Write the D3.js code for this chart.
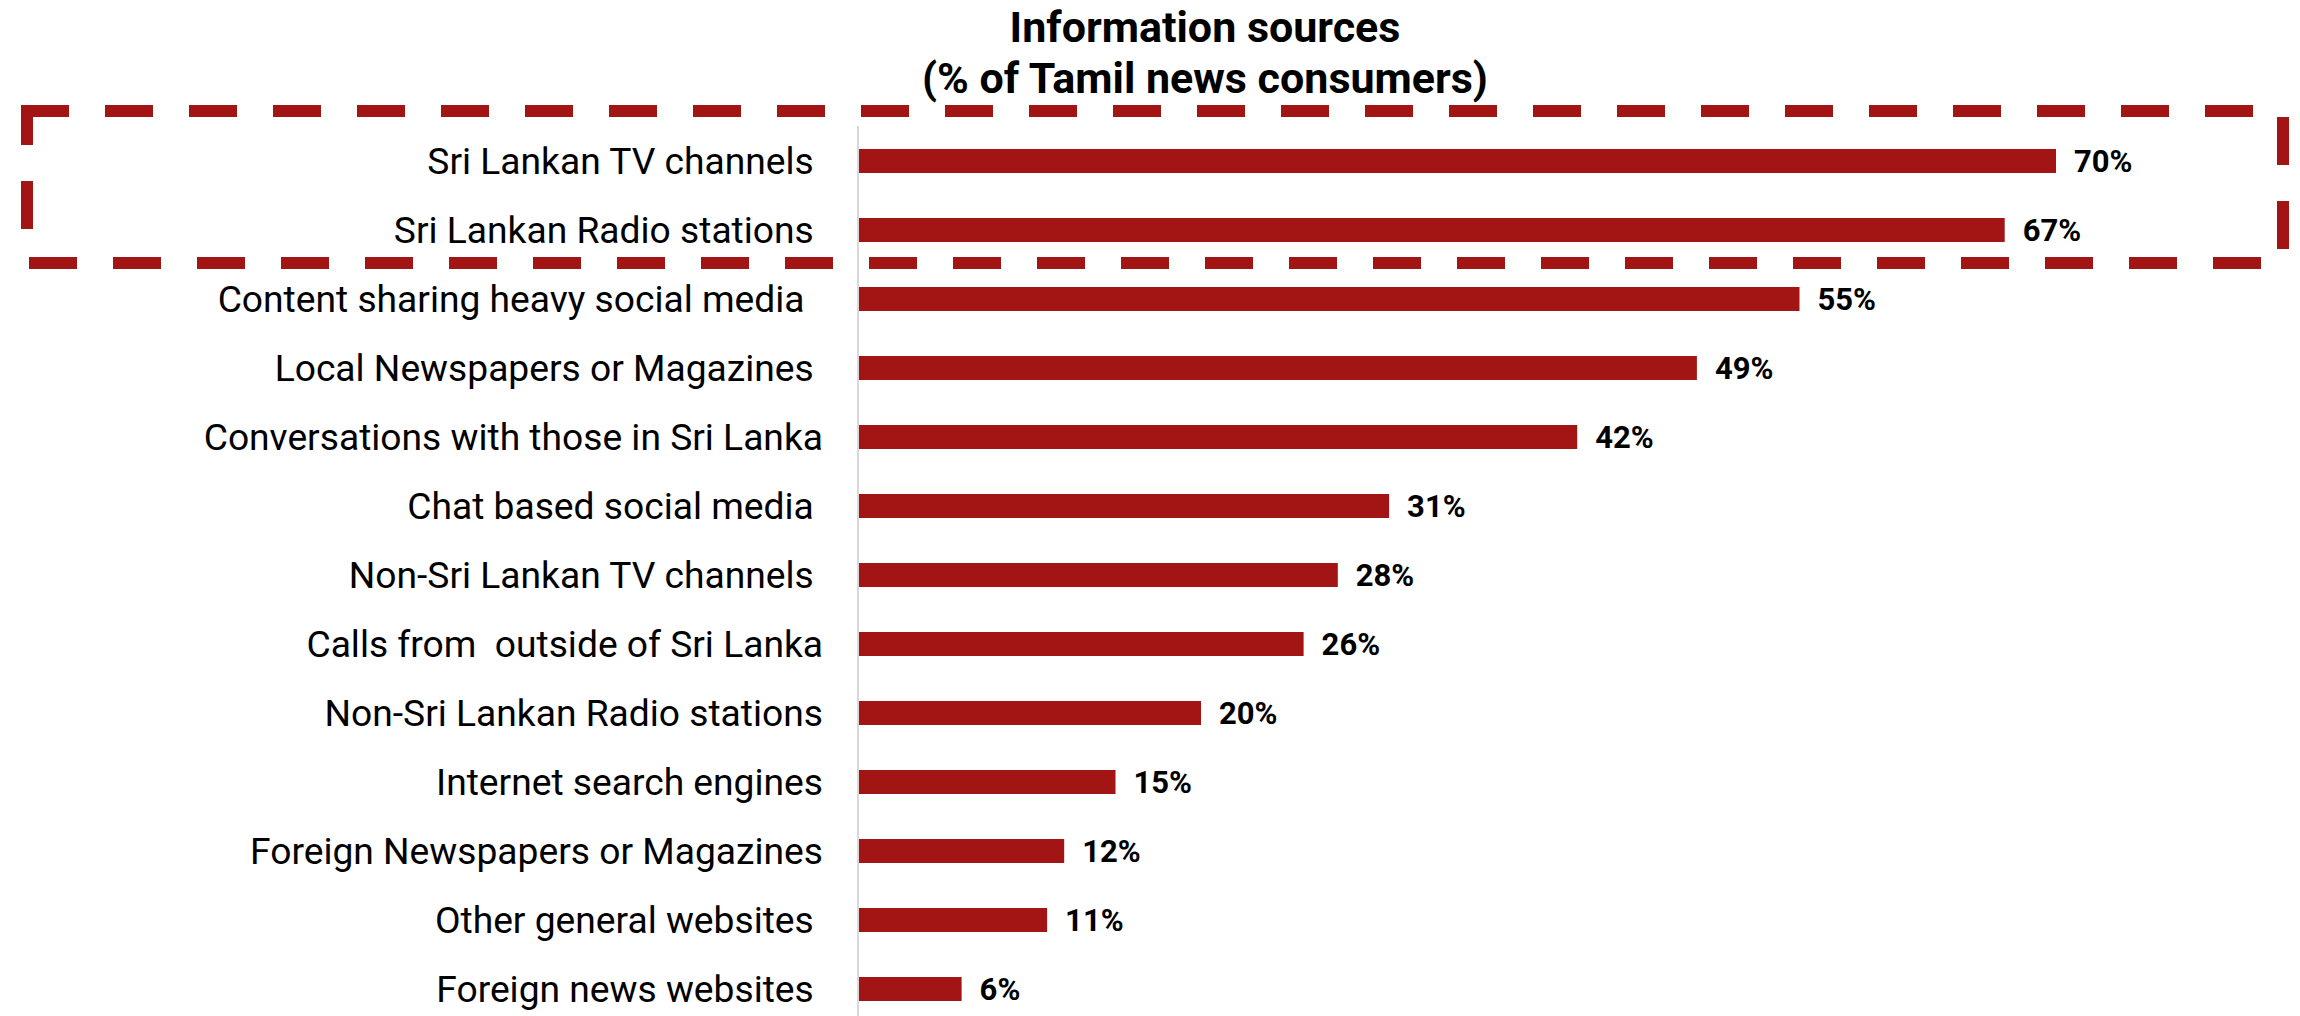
<!DOCTYPE html>
<html>
<head>
<meta charset="utf-8">
<script src="https://cdn.jsdelivr.net/npm/d3@7"></script>
<style>
  html, body { margin: 0; padding: 0; background: #ffffff; }
  svg { display: block; }
  .cat { white-space: pre; }
</style>
</head>
<body>
<svg id="chart" width="2300" height="1016"></svg>
<script>
// Information sources used by Tamil news consumers (share of respondents, %)
const categories = [
  "Sri Lankan TV channels ",
  "Sri Lankan Radio stations ",
  "Content sharing heavy social media  ",
  "Local Newspapers or Magazines ",
  "Conversations with those in Sri Lanka",
  "Chat based social media ",
  "Non-Sri Lankan TV channels ",
  "Calls from  outside of Sri Lanka",
  "Non-Sri Lankan Radio stations",
  "Internet search engines",
  "Foreign Newspapers or Magazines",
  "Other general websites ",
  "Foreign news websites "
];
const values = [70, 67, 55, 49, 42, 31, 28, 26, 20, 15, 12, 11, 6];
const highlighted = ["Sri Lankan TV channels ", "Sri Lankan Radio stations "];
const titleLines = ["Information sources", "(% of Tamil news consumers)"];

const RED = "#a31414";
const data = categories.map((c, i) => ({ cat: c, value: values[i] }));

const svg = d3.select("#chart");
const W = 2300, H = 1016;

const x = d3.scaleLinear().domain([0, 100]).range([859, 859 + 1710]);
const y = d3.scaleBand()
  .domain(categories)
  .range([104, 1046])
  .padding(45 / 69);

// Title
svg.append("g")
  .selectAll("text")
  .data(titleLines)
  .join("text")
  .attr("x", 1205)
  .attr("y", (d, i) => 42 + i * 50.5)
  .attr("text-anchor", "middle")
  .attr("font-family", "Roboto, sans-serif")
  .attr("font-weight", 700)
  .attr("font-size", 43)
  .attr("fill", "#000")
  .text(d => d);

// Vertical category axis line
svg.append("line")
  .attr("x1", x(0) - 1).attr("x2", x(0) - 1)
  .attr("y1", 126).attr("y2", H)
  .attr("stroke", "#d9d9d9")
  .attr("stroke-width", 2);

// Bars
svg.append("g")
  .selectAll("rect")
  .data(data)
  .join("rect")
  .attr("x", x(0))
  .attr("y", d => y(d.cat))
  .attr("width", d => x(d.value) - x(0))
  .attr("height", y.bandwidth())
  .attr("fill", RED);

// Category labels
const catSize = 37.2;
svg.append("g")
  .selectAll("text")
  .data(data)
  .join("text")
  .attr("class", "cat")
  .attr("x", 823)
  .attr("y", d => y(d.cat) + y.bandwidth() / 2 + catSize * 0.355)
  .attr("text-anchor", "end")
  .attr("font-family", "Roboto, sans-serif")
  .attr("font-size", catSize)
  .attr("fill", "#000")
  .text(d => d.cat);

// Value labels
const valSize = 31;
svg.append("g")
  .selectAll("text")
  .data(data)
  .join("text")
  .attr("x", d => x(d.value) + 18)
  .attr("y", d => y(d.cat) + y.bandwidth() / 2 + valSize * 0.355)
  .attr("font-family", "Roboto, sans-serif")
  .attr("font-weight", 700)
  .attr("font-size", valSize)
  .attr("fill", "#000")
  .text(d => d.value + "%");

// Dashed highlight around the leading sources
const boxTop = y(highlighted[0]) - 38;
const boxBottom = y(highlighted[highlighted.length - 1]) + y.bandwidth() + 21;
svg.append("rect")
  .attr("x", 27)
  .attr("y", boxTop)
  .attr("width", 2283 - 27)
  .attr("height", boxBottom - boxTop)
  .attr("fill", "none")
  .attr("stroke", RED)
  .attr("stroke-width", 12)
  .attr("stroke-dasharray", "48 36")
  .attr("stroke-dashoffset", 6);
</script>
</body>
</html>
